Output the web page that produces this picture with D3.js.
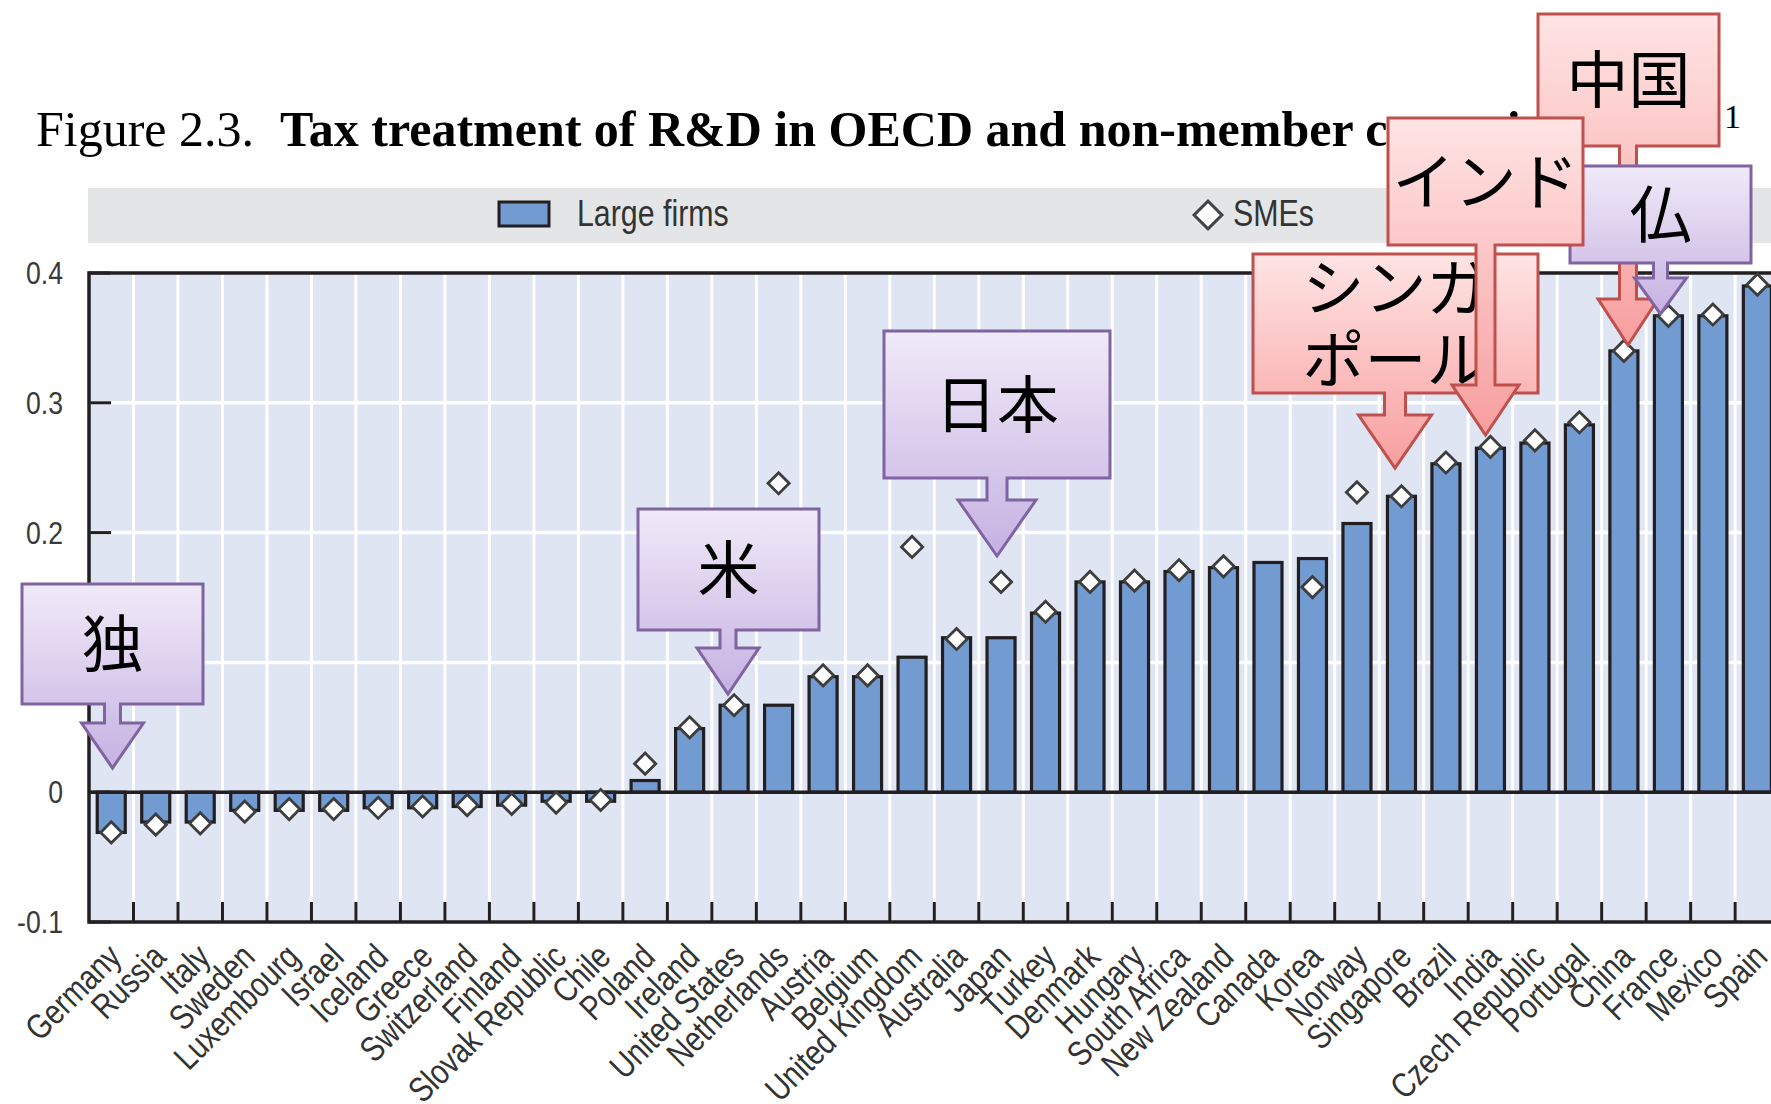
<!DOCTYPE html>
<html>
<head>
<meta charset="utf-8">
<script src="https://cdn.jsdelivr.net/npm/d3@7"></script>
<style>
  body { margin: 0; background: #fff; }
  svg { display: block; }
</style>
</head>
<body>
<svg id="chart" width="1771" height="1104"></svg>
<script>
// ---- data ----
let countries = ['Germany', 'Russia', 'Italy', 'Sweden', 'Luxembourg', 'Israel', 'Iceland', 'Greece',
  'Switzerland', 'Finland', 'Slovak Republic', 'Chile', 'Poland', 'Ireland', 'United States',
  'Netherlands', 'Austria', 'Belgium', 'United Kingdom', 'Australia', 'Japan', 'Turkey', 'Denmark',
  'Hungary', 'South Africa', 'New Zealand', 'Canada', 'Korea', 'Norway', 'Singapore', 'Brazil',
  'India', 'Czech Republic', 'Portugal', 'China', 'France', 'Mexico', 'Spain']

let largeFirms = [-0.031, -0.023, -0.023, -0.014, -0.014, -0.014, -0.012, -0.012,
  -0.011, -0.010, -0.007, -0.007, 0.009, 0.049, 0.067,
  0.067, 0.089, 0.089, 0.104, 0.119, 0.119, 0.138, 0.162,
  0.162, 0.170, 0.173, 0.177, 0.180, 0.207, 0.228, 0.253,
  0.265, 0.269, 0.283, 0.340, 0.367, 0.367, 0.390]

let smes = [-0.031, -0.025, -0.024, -0.015, -0.013, -0.013, -0.012, -0.011,
  -0.010, -0.009, -0.008, -0.006, 0.022, 0.050, 0.067,
  0.238, 0.090, 0.090, 0.189, 0.118, 0.162, 0.139, 0.162,
  0.163, 0.171, 0.174, null, 0.158, 0.231, 0.228, 0.254,
  0.266, 0.271, 0.285, 0.340, 0.367, 0.368, 0.391]

let yTicks = [-0.1, 0, 0.1, 0.2, 0.3, 0.4]
let yTickLabels = ['-0.1', '0', '0.1', '0.2', '0.3', '0.4']
let seriesNames = ['Large firms', 'SMEs']

let titleNumber = 'Figure 2.3.'
let titleText = 'Tax treatment of R&D in OECD and non-member countries, 2008'

// callout boxes pasted on top of the chart (layout only)
let callouts = [
  { lines: ['独'], tone: 'purple', x0: 22, x1: 203, y0: 584, y1: 704, cx: 112.5, sw: 8, hw: 31, ys: 723, yt: 768 },
  { lines: ['米'], tone: 'purple', x0: 638, x1: 819, y0: 509, y1: 630, cx: 728, sw: 8, hw: 31, ys: 648, yt: 694 },
  { lines: ['日本'], tone: 'purple', x0: 884, x1: 1110, y0: 331, y1: 478, cx: 997, sw: 10, hw: 39, ys: 500, yt: 556 },
  { lines: ['中国'], tone: 'red', x0: 1538, x1: 1719, y0: 14, y1: 146, cx: 1628, sw: 8.5, hw: 30, ys: 299, yt: 345 },
  { lines: ['仏'], tone: 'purple', x0: 1570, x1: 1751, y0: 166, y1: 263, cx: 1660.5, sw: 7, hw: 26, ys: 278, yt: 314 },
  { lines: ['シンガ', 'ポール'], tone: 'red', x0: 1253, x1: 1538, y0: 254, y1: 393, cx: 1395, sw: 10.5, hw: 36.5, ys: 415, yt: 468 },
  { lines: ['インド'], tone: 'red', x0: 1388, x1: 1583, y0: 118, y1: 245, cx: 1485.5, sw: 9.5, hw: 33.5, ys: 385, yt: 435 }
]

// ---- layout ----
let W = 1771
let plotLeft = 89, plotTop = 273, plotBottom = 922
let step = 44.49
let barColor = '#729bd2'
let ink = '#231f20'
let sansFont = '"Liberation Sans", Arial, sans-serif'

let svg = d3.select('#chart')

let x = d3.scaleBand()
  .domain(countries)
  .range([plotLeft, plotLeft + step * countries.length])
  .padding(0)

let y = d3.scaleLinear()
  .domain([-0.1, 0.4])
  .range([plotBottom, plotTop])

let rows = countries.map((c, i) => ({ country: c, large: largeFirms[i], sme: smes[i] }))

// narrow sans text (the original uses a condensed face)
let narrowText = (g, px, py, str, size, anchor, extra) => {
  return g.append('text')
    .attr('transform', 'translate(' + px + ',' + py + ')' + (extra || '') + ' scale(0.82,1)')
    .attr('text-anchor', anchor || 'start')
    .style('font-family', sansFont)
    .style('font-size', size + 'px')
    .attr('fill', '#333')
    .text(str)
}

// ---- title ----
let title = svg.append('text')
  .attr('y', 146)
  .style('font-family', '"Liberation Serif", "DejaVu Serif", serif')
  .style('font-size', '50px')
  .attr('fill', '#000')
title.append('tspan').attr('x', 36).text(titleNumber)
title.append('tspan').attr('x', 280).style('font-weight', 'bold').text(titleText)
title.append('tspan').attr('x', 1724).attr('y', 128).style('font-size', '34px').text('1')

// ---- legend ----
svg.append('rect')
  .attr('x', 88).attr('y', 188)
  .attr('width', W - 88).attr('height', 55)
  .attr('fill', '#e4e5e7')

svg.append('rect')
  .attr('x', 499).attr('y', 202)
  .attr('width', 50).attr('height', 24)
  .attr('fill', barColor)
  .attr('stroke', ink)
  .attr('stroke-width', 3)
narrowText(svg, 577, 226, seriesNames[0], 37)

svg.append('path')
  .attr('d', d3.symbol(d3.symbolSquare, 390)())
  .attr('transform', 'translate(1208,215) rotate(45)')
  .attr('fill', '#fff')
  .attr('stroke', '#444')
  .attr('stroke-width', 3)
narrowText(svg, 1233, 226, seriesNames[1], 37)

// ---- plot area ----
svg.append('rect')
  .attr('x', plotLeft).attr('y', plotTop)
  .attr('width', W - plotLeft).attr('height', plotBottom - plotTop)
  .attr('fill', '#dfe5f3')

// vertical white grid at category boundaries
svg.append('g').selectAll('line')
  .data(countries.slice(1))
  .enter().append('line')
  .attr('x1', d => x(d)).attr('x2', d => x(d))
  .attr('y1', plotTop).attr('y2', plotBottom)
  .attr('stroke', '#fff').attr('stroke-width', 3)

// horizontal white grid
svg.append('g').selectAll('line')
  .data(yTicks.filter(t => t > 0 && t < 0.4))
  .enter().append('line')
  .attr('x1', plotLeft).attr('x2', W)
  .attr('y1', d => y(d)).attr('y2', d => y(d))
  .attr('stroke', '#fff').attr('stroke-width', 3.5)

// bars
let barW = x.bandwidth() * 0.63
svg.append('g').selectAll('rect')
  .data(rows)
  .enter().append('rect')
  .attr('x', d => x(d.country) + (x.bandwidth() - barW) / 2)
  .attr('width', barW)
  .attr('y', d => y(Math.max(0, d.large)))
  .attr('height', d => Math.abs(y(d.large) - y(0)))
  .attr('fill', barColor)
  .attr('stroke', ink)
  .attr('stroke-width', 3.2)

// frame lines: top, zero, bottom, left
let frame = svg.append('g').attr('stroke', ink).attr('stroke-width', 3.5)
frame.append('line').attr('x1', plotLeft).attr('x2', W).attr('y1', y(0.4)).attr('y2', y(0.4))
frame.append('line').attr('x1', plotLeft).attr('x2', W).attr('y1', y(0)).attr('y2', y(0))
frame.append('line').attr('x1', plotLeft).attr('x2', W).attr('y1', y(-0.1)).attr('y2', y(-0.1))
frame.append('line').attr('x1', plotLeft).attr('x2', plotLeft).attr('y1', y(0.4) - 1.7).attr('y2', y(-0.1) + 1.7)

// bottom ticks (pointing up) at category boundaries
svg.append('g').selectAll('line')
  .data(countries.slice(1))
  .enter().append('line')
  .attr('x1', d => x(d)).attr('x2', d => x(d))
  .attr('y1', plotBottom).attr('y2', plotBottom - 20)
  .attr('stroke', ink).attr('stroke-width', 3)

// left ticks (pointing in)
svg.append('g').selectAll('line')
  .data(yTicks)
  .enter().append('line')
  .attr('x1', plotLeft).attr('x2', plotLeft + 22)
  .attr('y1', d => y(d)).attr('y2', d => y(d))
  .attr('stroke', ink).attr('stroke-width', 3)

// y labels
let yLab = svg.append('g')
yTicks.forEach((t, i) => {
  yLab.append('text')
    .attr('transform', 'translate(63,' + (y(t) + 11) + ') scale(0.86,1)')
    .attr('text-anchor', 'end')
    .style('font-family', sansFont)
    .style('font-size', '31px')
    .attr('fill', '#3a3a3a')
    .text(yTickLabels[i])
})

// x labels, rotated
let xLab = svg.append('g')
countries.forEach(c => {
  narrowText(xLab, x(c) + x.bandwidth() / 2 + 12, 959, c, 35, 'end', ' rotate(-45)')
})

// SME diamonds
svg.append('g').selectAll('path')
  .data(rows.filter(d => d.sme !== null))
  .enter().append('path')
  .attr('d', d3.symbol(d3.symbolSquare, 225)())
  .attr('transform', d => 'translate(' + (x(d.country) + x.bandwidth() / 2) + ',' + y(d.sme) + ') rotate(45)')
  .attr('fill', '#fff')
  .attr('stroke', '#3d3d3d')
  .attr('stroke-width', 2.8)

// ---- callouts ----
let defs = svg.append('defs')
let tones = {
  purple: { top: '#f0eaf8', bottom: '#c6b1e2', line: '#8064a2' },
  red: { top: '#ffe4e4', bottom: '#f89e9e', line: '#c0504d' }
}
Object.keys(tones).forEach(k => {
  let grad = defs.append('linearGradient')
    .attr('id', 'grad-' + k)
    .attr('x1', 0).attr('y1', 0).attr('x2', 0).attr('y2', 1)
  grad.append('stop').attr('offset', 0).attr('stop-color', tones[k].top)
  grad.append('stop').attr('offset', 1).attr('stop-color', tones[k].bottom)
})

let calloutPath = (c) => {
  let p = d3.path()
  p.moveTo(c.x0, c.y0)
  p.lineTo(c.x1, c.y0)
  p.lineTo(c.x1, c.y1)
  p.lineTo(c.cx + c.sw, c.y1)
  p.lineTo(c.cx + c.sw, c.ys)
  p.lineTo(c.cx + c.hw, c.ys)
  p.lineTo(c.cx, c.yt)
  p.lineTo(c.cx - c.hw, c.ys)
  p.lineTo(c.cx - c.sw, c.ys)
  p.lineTo(c.cx - c.sw, c.y1)
  p.lineTo(c.x0, c.y1)
  p.closePath()
  return p.toString()
}

callouts.forEach(c => {
  let g = svg.append('g')
  g.append('path')
    .attr('d', calloutPath(c))
    .attr('fill', 'url(#grad-' + c.tone + ')')
    .attr('stroke', tones[c.tone].line)
    .attr('stroke-width', 3)
    .attr('stroke-linejoin', 'miter')
  let midY = (c.y0 + c.y1) / 2
  let lineGap = 72
  c.lines.forEach((ln, i) => {
    let ly = midY + (i - (c.lines.length - 1) / 2) * lineGap
    g.append('text')
      .attr('x', (c.x0 + c.x1) / 2)
      .attr('y', ly + 23)
      .attr('text-anchor', 'middle')
      .style('font-family', '"Noto Sans CJK JP", "Noto Sans CJK SC", sans-serif')
      .style('font-size', '62px')
      .attr('fill', '#000')
      .text(ln)
  })
})
</script>
</body>
</html>
